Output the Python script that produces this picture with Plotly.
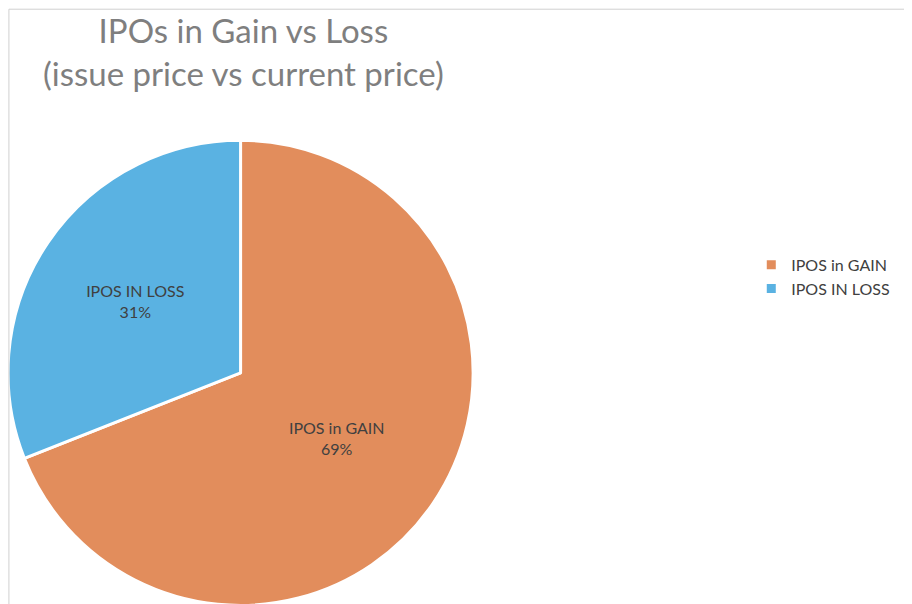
import plotly.graph_objects as go

labels = ["IPOS in GAIN", "IPOS IN LOSS"]
values = [69, 31]
colors = ["#E28D5C", "#5AB2E2"]

fig = go.Figure(go.Pie(
    labels=labels, values=values, sort=False, direction="clockwise", rotation=0,
    marker=dict(colors=colors, line=dict(color="white", width=3)),
    textinfo="label+percent", textposition="inside", insidetextorientation="horizontal",
    texttemplate="%{label}<br>%{percent:.0%}",
    textfont=dict(family="Lato", size=16, color="#404040"),
    domain=dict(x=[0.0, 0.51], y=[0.01, 0.782]),
    showlegend=True,
))

fig.update_layout(
    width=912, height=604,
    margin=dict(l=0, r=0, t=0, b=0),
    paper_bgcolor="white",
    annotations=[dict(text="IPOs in Gain vs Loss<br>(issue price vs current price)",
                      xref="paper", yref="paper", x=0.258, y=1.0, xanchor="center", yanchor="top",
                      showarrow=False, align="center",
                      font=dict(family="Lato", size=33, color="#7f7f7f"))],
    legend=dict(x=0.815, y=0.555, xanchor="left", yanchor="middle",
                font=dict(family="Lato", size=16, color="#404040")),
    shapes=[dict(type="rect", xref="paper", yref="paper", x0=0.001, y0=0.002, x1=0.999, y1=0.998,
                 line=dict(color="#d0d0d0", width=1))],
)

fig.write_html("out.html")
